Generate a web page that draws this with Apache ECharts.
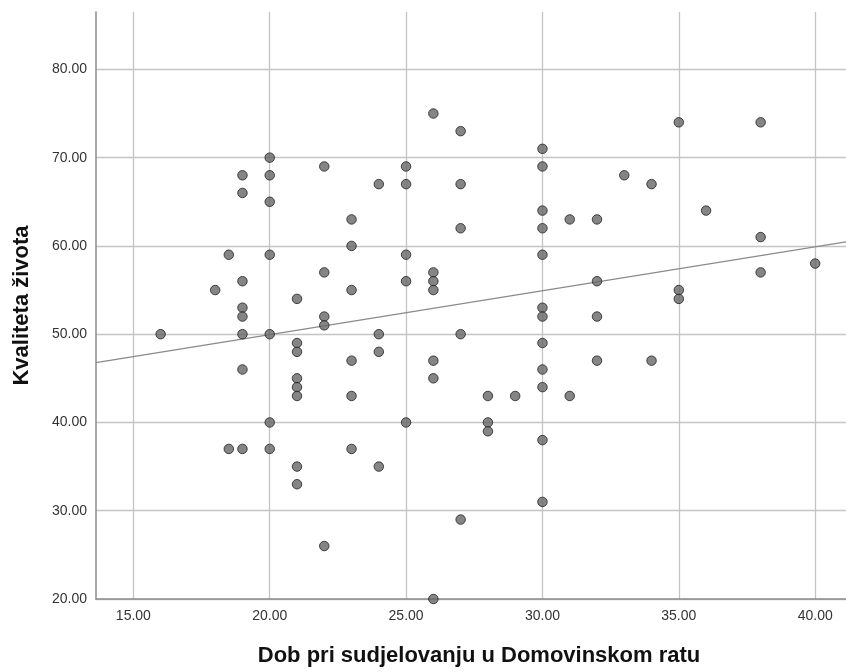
<!DOCTYPE html>
<html>
<head>
<meta charset="utf-8">
<script src="https://cdn.jsdelivr.net/npm/echarts@6/dist/echarts.min.js"></script>
<style>
html,body{margin:0;padding:0;background:#fff;}
#chart{width:846px;height:672px;}
</style>
</head>
<body>
<div id="chart"></div>
<script>
// Age at participation in the Homeland War (x) and quality of life (y)
const ages = [
  16,
  18,
  18.5, 18.5,
  19, 19, 19, 19, 19, 19, 19, 19,
  20, 20, 20, 20, 20, 20, 20,
  21, 21, 21, 21, 21, 21, 21, 21,
  22, 22, 22, 22, 22,
  23, 23, 23, 23, 23, 23,
  24, 24, 24, 24,
  25, 25, 25, 25, 25,
  26, 26, 26, 26, 26, 26, 26,
  27, 27, 27, 27, 27,
  28, 28, 28,
  29,
  30, 30, 30, 30, 30, 30, 30, 30, 30, 30, 30, 30,
  31, 31,
  32, 32, 32, 32,
  33,
  34, 34,
  35, 35, 35,
  36,
  38, 38, 38,
  40
];
const quality = [
  50,
  55,
  59, 37,
  68, 66, 56, 53, 52, 50, 46, 37,
  70, 68, 65, 59, 50, 40, 37,
  54, 49, 48, 45, 44, 43, 35, 33,
  69, 57, 52, 51, 26,
  63, 60, 55, 47, 43, 37,
  67, 50, 48, 35,
  69, 67, 59, 56, 40,
  75, 57, 56, 55, 47, 45, 20,
  73, 67, 62, 50, 29,
  43, 40, 39,
  43,
  71, 69, 64, 62, 59, 53, 52, 49, 46, 44, 38, 31,
  63, 43,
  63, 56, 52, 47,
  68,
  67, 47,
  74, 55, 54,
  64,
  74, 61, 57,
  58
];
const xTicks = [15, 20, 25, 30, 35, 40];
const yTicks = [20, 30, 40, 50, 60, 70, 80];
const xRange = [13.63, 41.13];
const yRange = [20, 86.5];
// Fit line: y = fitIntercept + fitSlope * x
const fitIntercept = 40.0;
const fitSlope = 0.4975;

const points = ages.map((a, i) => [a, quality[i]]);
const fitLine = xRange.map(x => [x, fitIntercept + fitSlope * x]);

const font = "'Liberation Sans', Arial, sans-serif";
const chart = echarts.init(document.getElementById('chart'), null, {renderer: 'canvas'});
chart.setOption({
  animation: false,
  backgroundColor: '#ffffff',
  grid: {left: 96, right: 0, top: 12, bottom: 67, containLabel: false},
  xAxis: {
    type: 'value',
    min: xRange[0], max: xRange[1],
    name: 'Dob pri sudjelovanju u Domovinskom ratu',
    nameLocation: 'middle',
    nameGap: 46,
    nameTextStyle: {fontFamily: font, fontSize: 22, fontWeight: 'bold', color: '#111', padding: [0, 0, 0, 16]},
    axisLine: {show: true, lineStyle: {color: '#8c8c8c', width: 1.5}},
    axisTick: {show: false, customValues: xTicks},
    axisLabel: {customValues: xTicks, formatter: v => v.toFixed(2), fontFamily: font, fontSize: 14, color: '#333', margin: 10},
    splitLine: {show: true, lineStyle: {color: '#c4c4c4', width: 1.3}}
  },
  yAxis: {
    type: 'value',
    min: yRange[0], max: yRange[1],
    name: 'Kvaliteta života',
    nameLocation: 'middle',
    nameGap: 63,
    nameRotate: 90,
    nameTextStyle: {fontFamily: font, fontSize: 22, fontWeight: 'bold', color: '#111'},
    axisLine: {show: true, lineStyle: {color: '#8c8c8c', width: 1.5}},
    axisTick: {show: false, customValues: yTicks},
    axisLabel: {customValues: yTicks, formatter: v => v.toFixed(2), fontFamily: font, fontSize: 14, color: '#333', margin: 9},
    splitLine: {show: true, lineStyle: {color: '#c4c4c4', width: 1.3}}
  },
  series: [
    {
      type: 'line',
      data: fitLine,
      showSymbol: false,
      symbol: 'none',
      lineStyle: {color: '#8a8a8a', width: 1.2},
      z: 2,
      silent: true
    },
    {
      type: 'scatter',
      data: points,
      symbol: 'circle',
      symbolSize: 9.5,
      clip: false,
      itemStyle: {color: '#666666', borderColor: '#222222', borderWidth: 1},
      z: 3
    }
  ]
});
</script>
</body>
</html>
